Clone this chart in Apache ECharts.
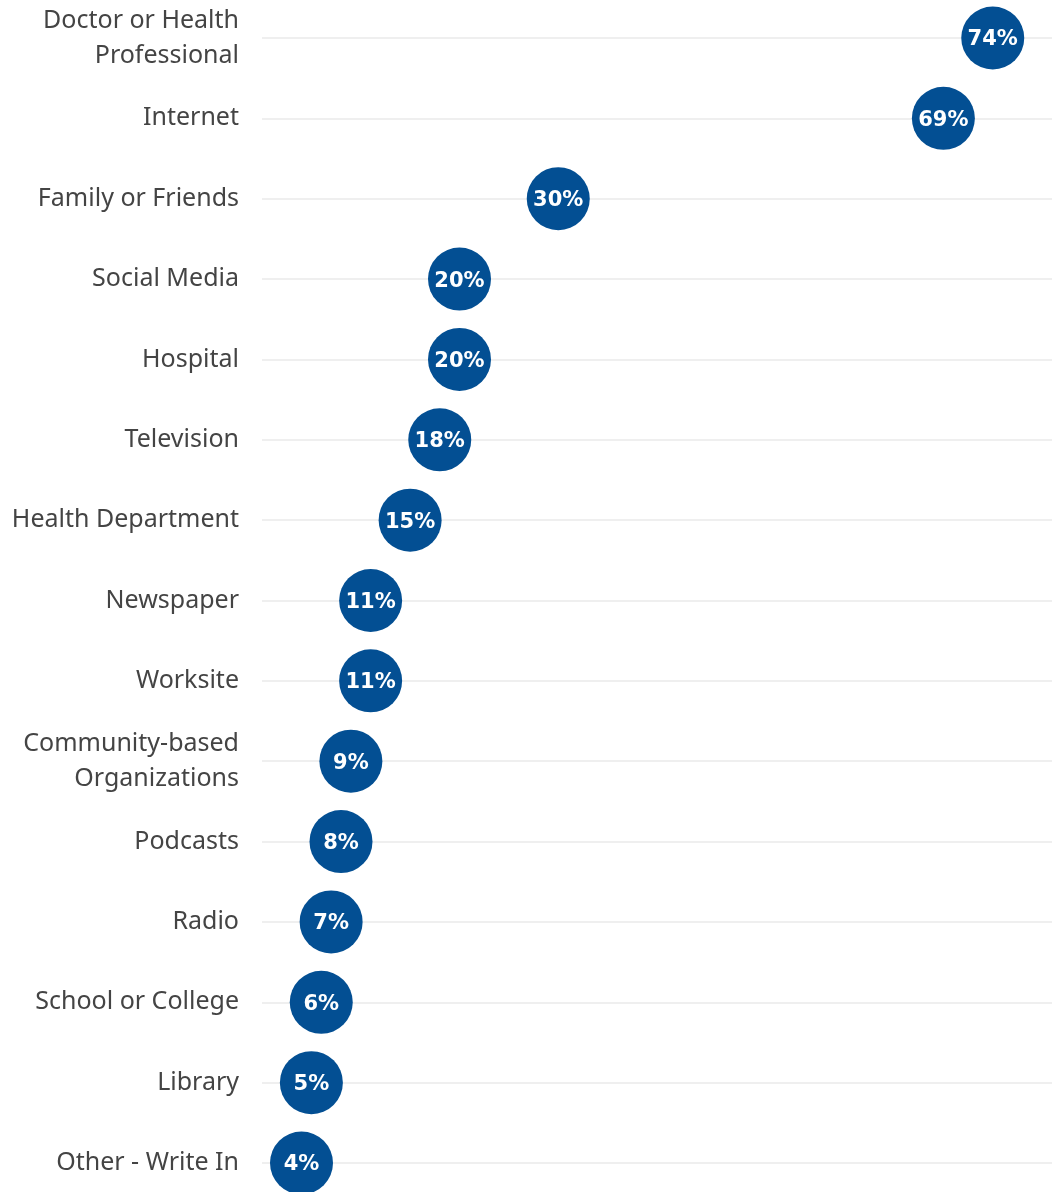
<!DOCTYPE html>
<html>
<head>
<meta charset="utf-8">
<script src="https://cdn.jsdelivr.net/npm/echarts@6/dist/echarts.min.js"></script>
<style>
  html, body { margin: 0; padding: 0; background: #ffffff; }
  #chart { width: 1052px; height: 1192px; }
</style>
</head>
<body>
<div id="chart"></div>
<script>
// Sources of health information, share of respondents (%)
const categories = [
  'Doctor or Health\nProfessional',
  'Internet',
  'Family or Friends',
  'Social Media',
  'Hospital',
  'Television',
  'Health Department',
  'Newspaper',
  'Worksite',
  'Community-based\nOrganizations',
  'Podcasts',
  'Radio',
  'School or College',
  'Library',
  'Other - Write In'
];
const values = [74, 69, 30, 20, 20, 18, 15, 11, 11, 9, 8, 7, 6, 5, 4];

const chart = echarts.init(document.getElementById('chart'));
chart.setOption({
  backgroundColor: '#ffffff',
  animation: false,
  grid: { left: 262, right: 0, top: 38, bottom: 29 },
  xAxis: {
    type: 'value',
    min: 0,
    max: 80,
    show: false
  },
  yAxis: {
    type: 'category',
    data: categories,
    inverse: true,
    boundaryGap: false,
    axisLine: { show: false },
    axisTick: { show: false },
    splitLine: { show: true, lineStyle: { color: '#efefef', width: 2 } },
    axisLabel: {
      margin: 23,
      color: '#444444',
      fontFamily: 'Noto Sans',
      fontSize: 25,
      lineHeight: 35,
      align: 'right',
      padding: [4, 0, 0, 0]
    }
  },
  series: [{
    type: 'scatter',
    data: values,
    symbol: 'circle',
    symbolSize: 63,
    clip: false,
    itemStyle: { color: '#034f93', opacity: 1 },
    label: {
      show: true,
      position: 'inside',
      offset: [0, 2],
      formatter: p => p.value + '%',
      color: '#ffffff',
      fontFamily: 'DejaVu Sans',
      fontWeight: 'bold',
      fontSize: 21
    }
  }]
});
</script>
</body>
</html>
